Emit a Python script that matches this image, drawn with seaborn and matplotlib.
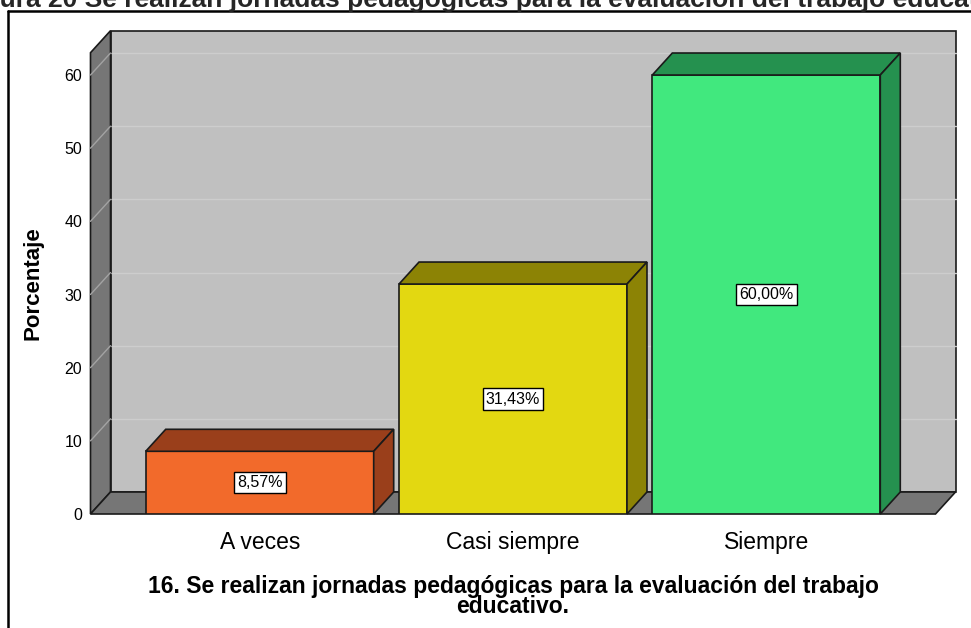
import numpy as np
import pandas as pd
import seaborn as sns
import matplotlib.pyplot as plt
from matplotlib.patches import Polygon, Rectangle
from matplotlib.lines import Line2D

categorias = ['A veces', 'Casi siempre', 'Siempre']
porcentajes = [8.57, 31.43, 60.00]
colores_frente = ['#F26A2B', '#E3D811', '#41E87E']
colores_sombra = ['#9A3F1B', '#8C8305', '#25914F']

titulo = 'Figura 20 Se realizan jornadas pedagógicas para la evaluación del trabajo educativo'
etiqueta_x = '16. Se realizan jornadas pedagógicas para la evaluación del trabajo\neducativo.'
etiqueta_y = 'Porcentaje'

sns.set_theme(style='white')
plt.rcParams['font.family'] = ['Liberation Sans', 'DejaVu Sans']

W, H = 971, 628
fig = plt.figure(figsize=(W / 100, H / 100), dpi=100)
fig.patch.set_facecolor('white')

# ejes = cara frontal del grafico 3D (en pixeles de la imagen)
ax = fig.add_axes([90.5 / W, (H - 514) / H, 845 / W, (514 - 52.7) / H])
ax.set_facecolor('none')
xmin, xmax = -0.668, 2.668
ymin, ymax = 0, 63.05
ax.set_xlim(xmin, xmax)
ax.set_ylim(ymin, ymax)

# profundidad en pixeles -> unidades de datos
prof_px = (20, 22)
ddx = prof_px[0] * (xmax - xmin) / 845
ddy = prof_px[1] * (ymax - ymin) / (514 - 52.7)

gris_pared = '#C0C0C0'
gris_lado = '#767676'
borde = '#1a1a1a'

# pared del fondo
ax.add_patch(Rectangle((xmin + ddx, ymin + ddy), xmax - xmin, ymax - ymin,
                       fc=gris_pared, ec=borde, lw=1.2, zorder=0.5, clip_on=False))
# pared lateral
ax.add_patch(Polygon([(xmin, ymin), (xmin, ymax), (xmin + ddx, ymax + ddy), (xmin + ddx, ymin + ddy)],
                     closed=True, fc=gris_lado, ec=borde, lw=1.2, zorder=0.6, clip_on=False))
# piso
ax.add_patch(Polygon([(xmin, ymin), (xmax, ymin), (xmax + ddx, ymin + ddy), (xmin + ddx, ymin + ddy)],
                     closed=True, fc=gris_lado, ec=borde, lw=1.2, zorder=0.6, clip_on=False))

# lineas de cuadricula
for t in range(10, 61, 10):
    ax.add_line(Line2D([xmin + ddx, xmax + ddx], [t + ddy, t + ddy], color='#CDCDCD', lw=1, zorder=0.55, clip_on=False))
    ax.add_line(Line2D([xmin, xmin + ddx], [t, t + ddy], color='#A3A3A3', lw=1, zorder=0.65, clip_on=False))

# barras frontales con seaborn
df = pd.DataFrame({'cat': categorias, 'pct': porcentajes})
sns.barplot(data=df, x='cat', y='pct', hue='cat', palette=colores_frente, width=0.9,
            edgecolor=borde, linewidth=1.2, legend=False, ax=ax, zorder=3, saturation=1)
ax.set_xlim(xmin, xmax)
ax.set_ylim(ymin, ymax)

# caras superior y lateral de cada barra
barras = [q for q in ax.patches if q.get_zorder() == 3]
for p, c in zip(barras, colores_sombra):
    x0 = p.get_x()
    x1 = x0 + p.get_width()
    h = p.get_height()
    ax.add_patch(Polygon([(x0, h), (x1, h), (x1 + ddx, h + ddy), (x0 + ddx, h + ddy)],
                         closed=True, fc=c, ec=borde, lw=1.2, zorder=3, clip_on=False))
    ax.add_patch(Polygon([(x1, 0), (x1, h), (x1 + ddx, h + ddy), (x1 + ddx, ddy)],
                         closed=True, fc=c, ec=borde, lw=1.2, zorder=3, clip_on=False))

# etiquetas de valor
for i, v in enumerate(porcentajes):
    ax.text(i, v / 2, f'{v:.2f}%'.replace('.', ','), ha='center', va='center', fontsize=11.5,
            color='black', zorder=6,
            bbox=dict(boxstyle='square,pad=0.2', fc='white', ec='black', lw=1))

for s in ax.spines.values():
    s.set_visible(False)
ax.grid(False)
ax.set_yticks(range(0, 61, 10))
ax.tick_params(axis='y', length=0, pad=6, labelsize=11.5, colors='black')
ax.tick_params(axis='x', length=0, pad=12, labelsize=16.5, colors='black')

ax.set_xlabel(etiqueta_x, fontsize=16.5, fontweight='bold', linespacing=0.85, labelpad=15, color='black')
ax.set_ylabel(etiqueta_y, fontsize=16, fontweight='bold', color='black')
ax.yaxis.set_label_coords((44 - 90.5) / 845, 0.5)

# marco exterior y titulo recortado
fig.add_artist(Line2D([8 / W, 8 / W], [0, 1 - 11 / H], transform=fig.transFigure, color='black', lw=1.8))
fig.add_artist(Line2D([8 / W, 1], [1 - 11 / H, 1 - 11 / H], transform=fig.transFigure, color='black', lw=1.8))
fig.text(-40 / W, 1 - 7 / H, titulo, fontsize=19, fontweight='bold', ha='left', va='baseline')

fig.savefig('out.png', dpi=100)
